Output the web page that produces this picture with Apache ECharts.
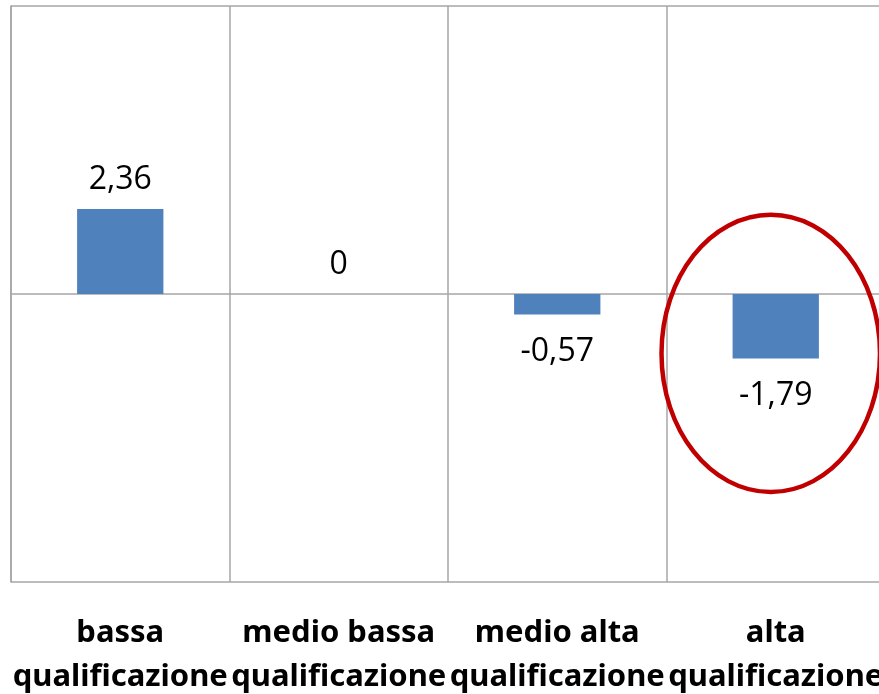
<!DOCTYPE html>
<html lang="it">
<head>
<meta charset="utf-8">
<title>qualificazione</title>
<style>
  html, body { margin: 0; padding: 0; background: #fff; }
  #chart { width: 879px; height: 694px; }
</style>
</head>
<body>
<div id="chart"></div>
<script src="https://cdn.jsdelivr.net/npm/echarts@6/dist/echarts.min.js"></script>
<script>
var categories = ['bassa\nqualificazione', 'medio bassa\nqualificazione', 'medio alta\nqualificazione', 'alta\nqualificazione'];
var values = [2.36, 0, -0.57, -1.79];
var yMin = -8, yMax = 8, yStep = 8;
var highlightIndex = 3;

var chart = echarts.init(document.getElementById('chart'));

var barData = values.map(function (v) {
  return {
    value: v,
    label: { position: v < 0 ? 'bottom' : 'top', distance: v < 0 ? 21 : 13 }
  };
});

chart.setOption({
  animation: false,
  backgroundColor: '#fff',
  grid: { left: 11, top: 6, width: 874, height: 576, outerBoundsMode: 'none', containLabel: false },
  xAxis: {
    type: 'category',
    data: categories,
    axisLine: { show: false },
    axisTick: { show: false },
    splitLine: { show: true, lineStyle: { color: '#a6a6a6', width: 1.5 } },
    axisLabel: {
      interval: 0,
      margin: 29,
      fontFamily: 'Noto Sans, sans-serif',
      fontWeight: 'bold',
      fontSize: 31,
      lineHeight: 44,
      color: '#000'
    }
  },
  yAxis: {
    type: 'value',
    min: yMin,
    max: yMax,
    interval: yStep,
    axisLabel: { show: false },
    axisTick: { show: false },
    axisLine: { show: true, lineStyle: { color: '#a6a6a6', width: 1.5 } },
    splitLine: { show: true, lineStyle: { color: '#a6a6a6', width: 1.5 } }
  },
  series: [{
    type: 'bar',
    data: barData,
    barWidth: '39.5%',
    itemStyle: { color: '#4f81bd' },
    label: {
      show: true,
      fontFamily: 'Open Sans, sans-serif',
      fontSize: 32,
      color: '#000',
      formatter: function (p) { return String(p.value).replace('.', ','); }
    }
  }]
});

// red ellipse annotation around the highlighted category
var c = chart.convertToPixel({ seriesIndex: 0 }, [highlightIndex, -1.65]);
var c2 = chart.convertToPixel({ seriesIndex: 0 }, [highlightIndex - 1, 0]);
var catW = c[0] - c2[0];
var unit = chart.convertToPixel({ seriesIndex: 0 }, [highlightIndex, 0])[1] -
           chart.convertToPixel({ seriesIndex: 0 }, [highlightIndex, 1])[1];
chart.setOption({
  graphic: [{
    type: 'ellipse',
    shape: { cx: c[0] - 5, cy: c[1], rx: catW * 0.5, ry: unit * 3.85 },
    style: { fill: 'none', stroke: '#c00000', lineWidth: 4.5 },
    z: 100
  }]
});
</script>
</body>
</html>
